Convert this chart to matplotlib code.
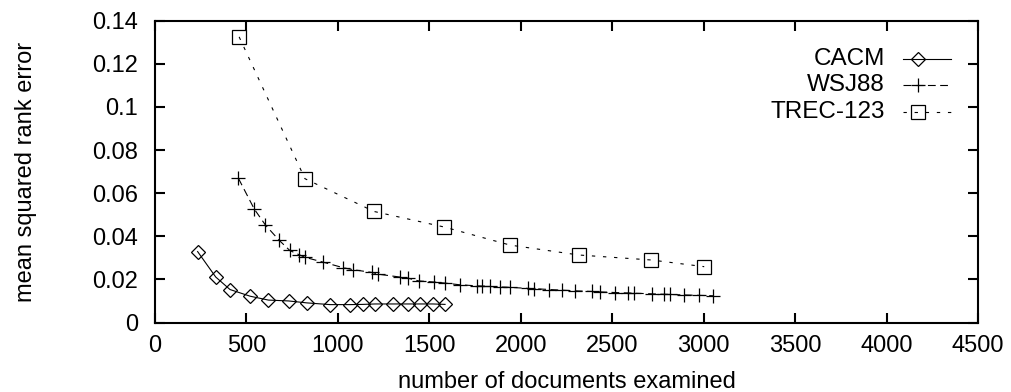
import matplotlib
matplotlib.use("Agg")
import matplotlib.pyplot as plt

# number of documents examined vs mean squared rank error
cacm_x = [233, 332, 410, 520, 620, 730, 830, 957, 1067, 1136, 1203, 1304, 1382, 1450, 1519, 1586]
cacm_y = [0.0329, 0.0211, 0.0153, 0.0122, 0.0104, 0.0100, 0.0091, 0.0083, 0.0083, 0.0084,
          0.0086, 0.0086, 0.0086, 0.0086, 0.0086, 0.0084]

wsj_x = [456, 543, 604, 677, 737, 789, 818, 919, 1030, 1083, 1188, 1222, 1338, 1386, 1441,
         1523, 1584, 1666, 1760, 1787, 1833, 1887, 1942, 2042, 2073, 2157, 2225, 2297, 2389,
         2434, 2516, 2589, 2617, 2717, 2785, 2817, 2890, 2972, 3051]
wsj_y = [0.0669, 0.0526, 0.0452, 0.0383, 0.0334, 0.0314, 0.0303, 0.0280, 0.0254, 0.0245,
         0.0232, 0.0224, 0.0211, 0.0205, 0.0193, 0.0188, 0.0183, 0.0175, 0.0170, 0.0169,
         0.0167, 0.0165, 0.0163, 0.0158, 0.0157, 0.0153, 0.0150, 0.0147, 0.0144, 0.0142,
         0.0139, 0.0137, 0.0136, 0.0133, 0.0131, 0.0130, 0.0128, 0.0126, 0.0124]

trec_x = [460, 820, 1198, 1581, 1942, 2319, 2713, 3003]
trec_y = [0.1325, 0.0667, 0.0515, 0.0443, 0.0359, 0.0313, 0.0290, 0.0259]

labels = ["CACM", "WSJ88", "TREC-123"]
xticks = [0, 500, 1000, 1500, 2000, 2500, 3000, 3500, 4000, 4500]
yticks = [0, 0.02, 0.04, 0.06, 0.08, 0.1, 0.12, 0.14]
ytick_labels = ["0", "0.02", "0.04", "0.06", "0.08", "0.1", "0.12", "0.14"]

plt.rcParams['font.family'] = ['Liberation Sans', 'DejaVu Sans']
plt.rcParams['font.size'] = 17

fig = plt.figure(figsize=(10.12, 3.92), dpi=100)
ax = fig.add_axes([155 / 1012, 1 - 322.5 / 392, 823 / 1012, 301.8 / 392])

styles = [
    dict(marker='D', ms=7, dashes=()),
    dict(marker='+', ms=10, dashes=(7, 4)),
    dict(marker='s', ms=9.5, dashes=(3, 7)),
]
series = [(cacm_x, cacm_y), (wsj_x, wsj_y), (trec_x, trec_y)]

for (xs, ys), st in zip(series, styles):
    kw = dict(color='black', lw=0.8, marker=st['marker'], ms=st['ms'],
              mfc='none', mec='black', mew=0.9)
    if st['dashes']:
        ax.plot(xs, ys, dashes=st['dashes'], **kw)
    else:
        ax.plot(xs, ys, ls='-', **kw)

# gnuplot-style key: text on the left, sample on the right
key_y = [0.873, 0.787, 0.699]
for lab, st, ky in zip(labels, styles, key_y):
    ax.text(0.887, ky, lab, transform=ax.transAxes, ha='right', va='center', fontsize=17.5)
    kw = dict(color='black', lw=0.8, transform=ax.transAxes, clip_on=False)
    if st['dashes']:
        ax.plot([0.909, 0.967], [ky, ky], dashes=st['dashes'], **kw)
    else:
        ax.plot([0.909, 0.967], [ky, ky], ls='-', **kw)
    ax.plot([0.927], [ky], marker=st['marker'], ms=st['ms'], mfc='none', mec='black',
            mew=0.9, ls='none', transform=ax.transAxes, clip_on=False)

ax.set_xlim(0, 4500)
ax.set_ylim(0, 0.14)
ax.set_xticks(xticks)
ax.set_yticks(yticks)
ax.set_yticklabels(ytick_labels)
ax.tick_params(direction='in', length=7, width=1.5, top=True, right=True)
ax.tick_params(axis='y', pad=12)
ax.tick_params(axis='x', pad=9)
for sp in ax.spines.values():
    sp.set_linewidth(1.5)

ax.set_xlabel("number of documents examined", labelpad=10)
ax.set_ylabel("mean squared rank error", labelpad=40)

fig.savefig("out.png", dpi=100)
